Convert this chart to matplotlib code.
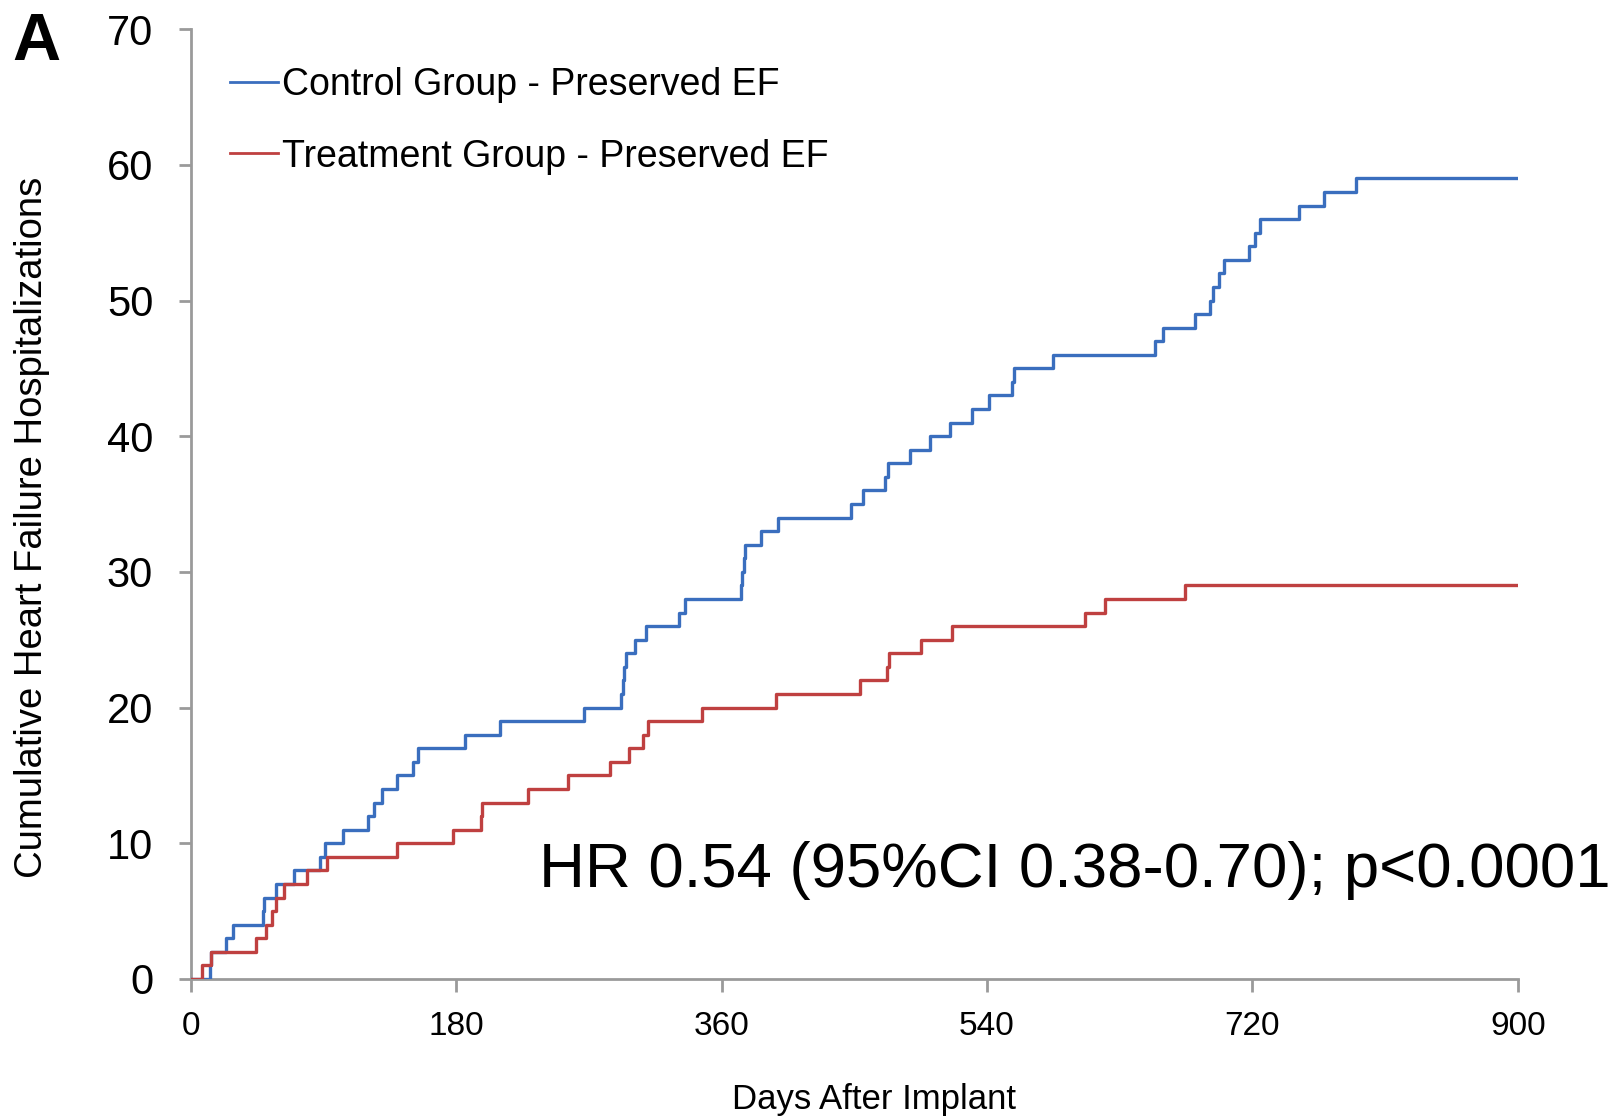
import numpy as np
import matplotlib
matplotlib.use("Agg")
import matplotlib.pyplot as plt

plt.rcParams['font.family'] = ['Liberation Sans', 'DejaVu Sans']

# event days and cumulative counts (step curves)
control_days = [0, 13, 14, 24, 28.5, 49, 50, 58, 70, 88, 91, 103.5, 120, 124, 129.5,
                140, 151, 154, 186, 210, 267, 292, 293, 294, 295, 301, 309, 331, 335,
                373, 374, 375, 376, 387, 398, 448, 456, 470.7, 473, 487.7, 501, 515,
                530, 541, 557, 558.5, 585, 654, 659.6, 681, 691, 693.4, 697.3, 700.7,
                717.7, 721.6, 725, 751.5, 768.6, 790.4, 900]
control_count = [0, 1, 2, 3, 4, 5, 6, 7, 8, 9, 10, 11, 12, 13, 14,
                 15, 16, 17, 18, 19, 20, 21, 22, 23, 24, 25, 26, 27, 28,
                 29, 30, 31, 32, 33, 34, 35, 36, 37, 38, 39, 40, 41,
                 42, 43, 44, 45, 46, 47, 48, 49, 50, 51, 52, 53,
                 54, 55, 56, 57, 58, 59, 59]

treat_days = [0, 7.5, 13.5, 44, 51, 55, 58, 63, 79, 92.7, 140, 178, 197, 197.5,
              229, 255.6, 284, 297, 307, 310, 346.5, 397, 454, 472.5, 473.5, 495,
              516, 606.6, 620, 674, 900]
treat_count = [0, 1, 2, 3, 4, 5, 6, 7, 8, 9, 10, 11, 12, 13,
               14, 15, 16, 17, 18, 19, 20, 21, 22, 23, 24, 25,
               26, 27, 28, 29, 29]

x_ticks = [0, 180, 360, 540, 720, 900]
y_ticks = [0, 10, 20, 30, 40, 50, 60, 70]

blue = '#3a6ebe'
red = '#bf4040'
grey = '#9a9a9a'

fig = plt.figure(figsize=(16.2, 11.2), dpi=100)
ax = fig.add_axes([0.1177, 0.1259, 0.937 - 0.1177, 0.974 - 0.1259])

ax.step(control_days, control_count, where='post', color=blue, lw=2.4,
        label='Control Group - Preserved EF', zorder=3)
ax.step(treat_days, treat_count, where='post', color=red, lw=2.4,
        label='Treatment Group - Preserved EF', zorder=3)

ax.set_xlim(0, 900)
ax.set_ylim(0, 70)
ax.set_xticks(x_ticks)
ax.set_yticks(y_ticks)

for s in ['top', 'right']:
    ax.spines[s].set_visible(False)
for s in ['left', 'bottom']:
    ax.spines[s].set_color(grey)
    ax.spines[s].set_linewidth(2)

ax.tick_params(axis='y', colors=grey, length=9, width=2, pad=18,
               labelsize=30, labelcolor='black')
ax.tick_params(axis='x', colors=grey, length=9, width=2, pad=14,
               labelsize=24, labelcolor='black')

ax.set_xlabel('Days After Implant', fontsize=25)
ax.xaxis.set_label_coords(0.515, -0.11, transform=ax.transAxes)
ax.xaxis.label.set_va('top')
ax.set_ylabel('Cumulative Heart Failure Hospitalizations', fontsize=27.5)
ax.yaxis.set_label_coords(-0.106, 0.475)

leg = ax.legend(loc='upper left', bbox_to_anchor=(0.018, 0.976), frameon=False,
                fontsize=27, handlelength=1.3, handletextpad=0.1,
                labelspacing=0.95, borderaxespad=0)
for line in leg.get_lines():
    line.set_linewidth(2)

ax.text(236, 6.8, 'HR 0.54 (95%CI 0.38-0.70); p<0.0001', fontsize=45.7,
        va='baseline', ha='left', clip_on=False)

fig.text(12 / 1620, 1 - 60 / 1120, 'A', fontsize=48, fontweight='bold',
         va='baseline', ha='left')

fig.savefig('out.png', dpi=100)
